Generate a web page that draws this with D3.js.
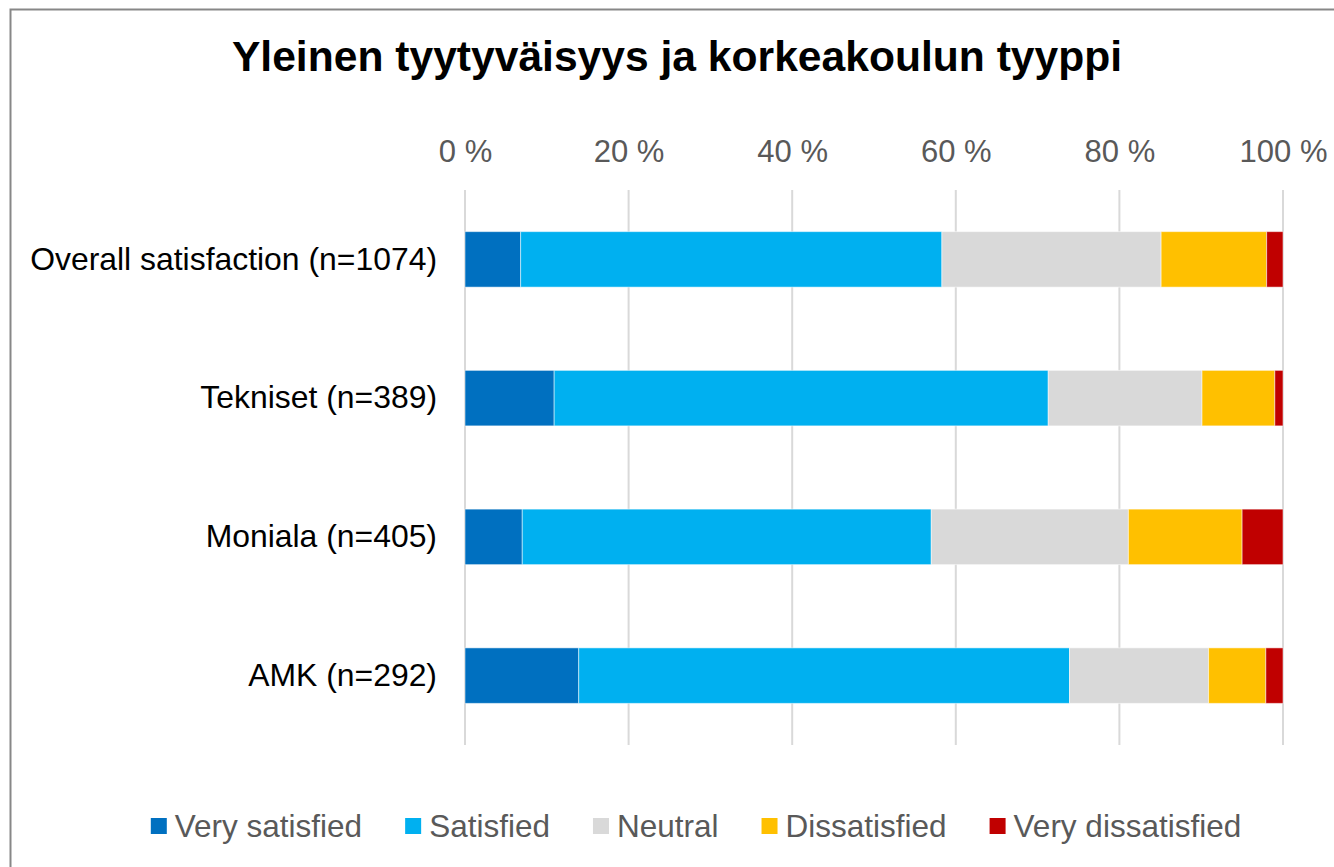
<!DOCTYPE html>
<html>
<head>
<meta charset="utf-8">
<script src="https://cdnjs.cloudflare.com/ajax/libs/d3/7.8.5/d3.min.js"></script>
<style>
  body { margin: 0; background: #fff; }
  svg { font-family: "Liberation Sans", Arial, sans-serif; }
</style>
</head>
<body>
<script>
// chart data
const title = "Yleinen tyytyväisyys ja korkeakoulun tyyppi";
const categories = ["Overall satisfaction (n=1074)", "Tekniset (n=389)", "Moniala (n=405)", "AMK (n=292)"];
const seriesNames = ["Very satisfied", "Satisfied", "Neutral", "Dissatisfied", "Very dissatisfied"];
const seriesColors = ["#0070C0", "#00B0F0", "#D9D9D9", "#FFC000", "#C00000"];
const verySatisfied = [6.8, 10.9, 7.0, 13.9];
const satisfied = [51.5, 60.4, 50.0, 60.0];
const neutral = [26.8, 18.8, 24.1, 17.0];
const dissatisfied = [12.9, 8.9, 13.9, 7.0];
const veryDissatisfied = [2.0, 1.0, 5.0, 2.1];
const tickValues = [0, 20, 40, 60, 80, 100];
const tickLabels = ["0 %", "20 %", "40 %", "60 %", "80 %", "100 %"];

const W = 1334, H = 867;
const seriesData = [verySatisfied, satisfied, neutral, dissatisfied, veryDissatisfied];
const table = categories.map((c, i) => {
  const row = { cat: c };
  seriesNames.forEach((s, j) => { row[s] = seriesData[j][i]; });
  return row;
});

const svg = d3.select("body").append("svg")
  .attr("width", W)
  .attr("height", H);

// frame
svg.append("rect")
  .attr("x", 10.5).attr("y", 9.5)
  .attr("width", W + 20).attr("height", H + 20)
  .attr("fill", "#fff")
  .attr("stroke", "#878787")
  .attr("stroke-width", 2);

svg.append("text")
  .attr("x", 677).attr("y", 71)
  .attr("text-anchor", "middle")
  .attr("font-size", 42.6)
  .attr("font-weight", "bold")
  .attr("fill", "#000")
  .text(title);

const x = d3.scaleLinear().domain([0, 100]).range([465, 1283]);
const y = d3.scaleBand().domain(categories).range([190, 745])
  .paddingInner(0.6).paddingOuter(0.3);

// grid
svg.append("g").selectAll("line")
  .data(tickValues)
  .join("line")
  .attr("x1", d => x(d)).attr("x2", d => x(d))
  .attr("y1", 190).attr("y2", 745)
  .attr("stroke", "#d9d9d9")
  .attr("stroke-width", 2);

// top axis labels
const xAxis = d3.axisTop(x).tickValues(tickValues)
  .tickFormat((d, i) => tickLabels[i]).tickSize(0).tickPadding(0);
const gx = svg.append("g").attr("transform", "translate(0,162)").call(xAxis);
gx.select(".domain").remove();
gx.selectAll("text")
  .attr("font-size", 31)
  .attr("font-family", "Liberation Sans, Arial, sans-serif")
  .attr("fill", "#595959")
  .attr("dy", 0);

// stacked bars
const stack = d3.stack().keys(seriesNames);
const layers = stack(table);
const color = d3.scaleOrdinal(seriesNames, seriesColors);

svg.append("g").selectAll("g")
  .data(layers)
  .join("g")
  .attr("fill", d => color(d.key))
  .selectAll("rect")
  .data(d => d)
  .join("rect")
  .attr("x", d => x(d[0]))
  .attr("width", d => x(d[1]) - x(d[0]))
  .attr("y", d => y(d.data.cat))
  .attr("height", y.bandwidth())
  .attr("stroke", "#ffffff")
  .attr("stroke-opacity", 0.5)
  .attr("stroke-width", 1);

// category labels
const yAxis = d3.axisLeft(y).tickSize(0).tickPadding(0);
const gy = svg.append("g").attr("transform", "translate(437,0)").call(yAxis);
gy.select(".domain").remove();
gy.selectAll("text")
  .attr("font-size", 31.9)
  .attr("font-family", "Liberation Sans, Arial, sans-serif")
  .attr("fill", "#000");

// legend
const legend = svg.append("g");
const items = legend.selectAll("g")
  .data(seriesNames)
  .join("g");
items.append("rect")
  .attr("width", 16).attr("height", 16)
  .attr("y", 818)
  .attr("fill", d => color(d));
items.append("text")
  .attr("x", 24)
  .attr("y", 837)
  .attr("font-size", 31.5)
  .attr("fill", "#595959")
  .text(d => d);

let cx = 0;
const pos = [];
items.each(function () {
  const tw = d3.select(this).select("text").node().getComputedTextLength();
  pos.push(cx);
  cx += 24 + tw + 43;
});
const total = cx - 43;
const start = 696 - total / 2;
items.attr("transform", (d, i) => "translate(" + (start + pos[i]) + ",0)");
</script>
</body>
</html>
